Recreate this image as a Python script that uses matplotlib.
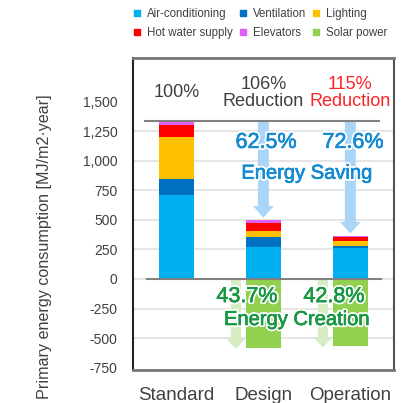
import matplotlib
matplotlib.use("Agg")
import matplotlib.pyplot as plt
import matplotlib.patheffects as pe
from matplotlib.lines import Line2D
from matplotlib.ticker import FuncFormatter

# ---- data -------------------------------------------------------------
cases = ["Standard", "Design", "Operation"]
air_conditioning = [712, 272, 262]
ventilation = [135, 84, 18]
lighting = [355, 50, 42]
hot_water = [100, 65, 37]
elevators = [33, 29, 7]
saving_pct = [None, 62.5, 72.6]
creation_pct = [None, 43.7, 42.8]
reduction_labels = ["100%", "106%\nReduction", "115%\nReduction"]
yticks = [-750, -500, -250, 0, 250, 500, 750, 1000, 1250, 1500]

standard_total = (air_conditioning[0] + ventilation[0] + lighting[0]
                  + hot_water[0] + elevators[0])
solar = [0.0] + [-p / 100.0 * standard_total for p in creation_pct[1:]]

# ---- style ------------------------------------------------------------
plt.rcParams["font.family"] = ["Liberation Sans", "DejaVu Sans"]
TXT = "#404040"
C_AC, C_VENT, C_LIGHT = "#00B0F0", "#0070C0", "#FFC000"
C_HW, C_ELEV, C_SOLAR = "#FF0000", "#DD60F2", "#92D050"
C_BLUE_TXT, C_GREEN_TXT = "#168CD0", "#1A9846"
C_BLUE_ARROW, C_GREEN_ARROW = "#A9D6F8", "#D6EDC4"

fig = plt.figure(figsize=(4.09, 4.03), dpi=100)
ax = fig.add_axes([0.325, 0.082, 0.638, 0.774])

x = list(range(len(cases)))
w = 0.4
bottom = [0.0] * 3
for vals, col in [(air_conditioning, C_AC), (ventilation, C_VENT),
                  (lighting, C_LIGHT), (hot_water, C_HW), (elevators, C_ELEV)]:
    ax.bar(x, vals, w, bottom=bottom, color=col, zorder=3, linewidth=0)
    bottom = [b + v for b, v in zip(bottom, vals)]
totals = bottom
ax.bar(x, solar, w, color=C_SOLAR, zorder=3, linewidth=0)

ax.set_xlim(-0.5, 2.5)
ax.set_ylim(-770, 1870)

# grid lines
for g in range(-500, 1500, 250):
    ax.axhline(g, color="#E3E3E3", lw=1.3, zorder=1)
# zero line and standard reference line
ax.plot([-0.34, 2.35], [0, 0], color="#808080", lw=1.5, zorder=4)
ax.plot([-0.36, 2.33], [standard_total, standard_total], color="#808080",
        lw=1.5, zorder=4)

# saving arrows (blue) and creation arrows (green)
for i in (1, 2):
    tip = totals[i] + 18
    ax.arrow(i, standard_total, 0, tip - standard_total, width=0.126,
             head_width=0.24, head_length=100, length_includes_head=True,
             color=C_BLUE_ARROW, lw=0, zorder=2)
    gx = i - 0.316
    gtip = solar[i] - 8
    ax.arrow(gx, -8, 0, gtip + 8, width=0.115, head_width=0.22,
             head_length=85, length_includes_head=True,
             color=C_GREEN_ARROW, lw=0, zorder=2)

# annotations
ax.text(0, 1577, reduction_labels[0], ha="center", va="center",
        fontsize=13, color=TXT, zorder=6)
ax.text(1, 1577, reduction_labels[1], ha="center", va="center",
        fontsize=13, color=TXT, linespacing=1.0, zorder=6)
ax.text(2, 1577, reduction_labels[2], ha="center", va="center",
        fontsize=13, color="#FF2424", linespacing=1.0, zorder=6)


def outline(col):
    return [pe.withStroke(linewidth=3.0, foreground="white"),
            pe.withStroke(linewidth=0.45, foreground=col)]


for i in (1, 2):
    ax.text(i + 0.03, 1156, f"{saving_pct[i]}%", ha="center", va="center",
            fontsize=15.5, color=C_BLUE_TXT, zorder=6,
            path_effects=outline(C_BLUE_TXT))
    ax.text(i - 0.19, -149, f"{creation_pct[i]}%", ha="center", va="center",
            fontsize=15.5, color=C_GREEN_TXT, zorder=6,
            path_effects=outline(C_GREEN_TXT))
ax.text(1.5, 895, "Energy Saving", ha="center", va="center", fontsize=14.5,
        color=C_BLUE_TXT, zorder=6, path_effects=outline(C_BLUE_TXT))
ax.text(1.385, -343, "Energy Creation", ha="center", va="center",
        fontsize=14.5, color=C_GREEN_TXT, zorder=6,
        path_effects=outline(C_GREEN_TXT))

# axes styling
ax.set_yticks(yticks)
ax.yaxis.set_major_formatter(FuncFormatter(lambda v, p: f"{int(v):,}"))
ax.set_xticks(x)
ax.set_xticklabels(cases, fontsize=13.5, color=TXT)
ax.tick_params(axis="y", length=0, pad=11, labelsize=10, labelcolor=TXT)
ax.tick_params(axis="x", length=0, pad=12)
ax.spines["left"].set_color("#222222")
ax.spines["left"].set_linewidth(1.5)
ax.spines["right"].set_color("#555555")
ax.spines["right"].set_linewidth(1.5)
ax.spines["top"].set_color("#777777")
ax.spines["top"].set_linewidth(2)
ax.spines["bottom"].set_color("#777777")
ax.spines["bottom"].set_linewidth(2)

fig.text(45 / 409, 1 - 247 / 403, "Primary energy consumption [MJ/m2\u00b7year]",
         rotation=90, ha="center", va="center", fontsize=11.6, color=TXT)

# legend (filled column-wise, so order gives the two visual rows)
def sq(c):
    return Line2D([], [], marker="s", ls="none", color=c, markersize=4.8)

handles = [sq(C_AC), sq(C_HW), sq(C_VENT), sq(C_ELEV), sq(C_LIGHT), sq(C_SOLAR)]
labels = ["Air-conditioning", "Hot water supply", "Ventilation", "Elevators",
          "Lighting", "Solar power"]
fig.legend(handles, labels, ncol=3, loc="upper left",
           bbox_to_anchor=(132 / 409, 1 - 8 / 403), frameon=False,
           fontsize=8.3, handlelength=0.8, handletextpad=0.5,
           columnspacing=0.45, labelspacing=0.6, labelcolor=TXT,
           borderaxespad=0.0, borderpad=0.0)

fig.savefig("out.png", dpi=100)
